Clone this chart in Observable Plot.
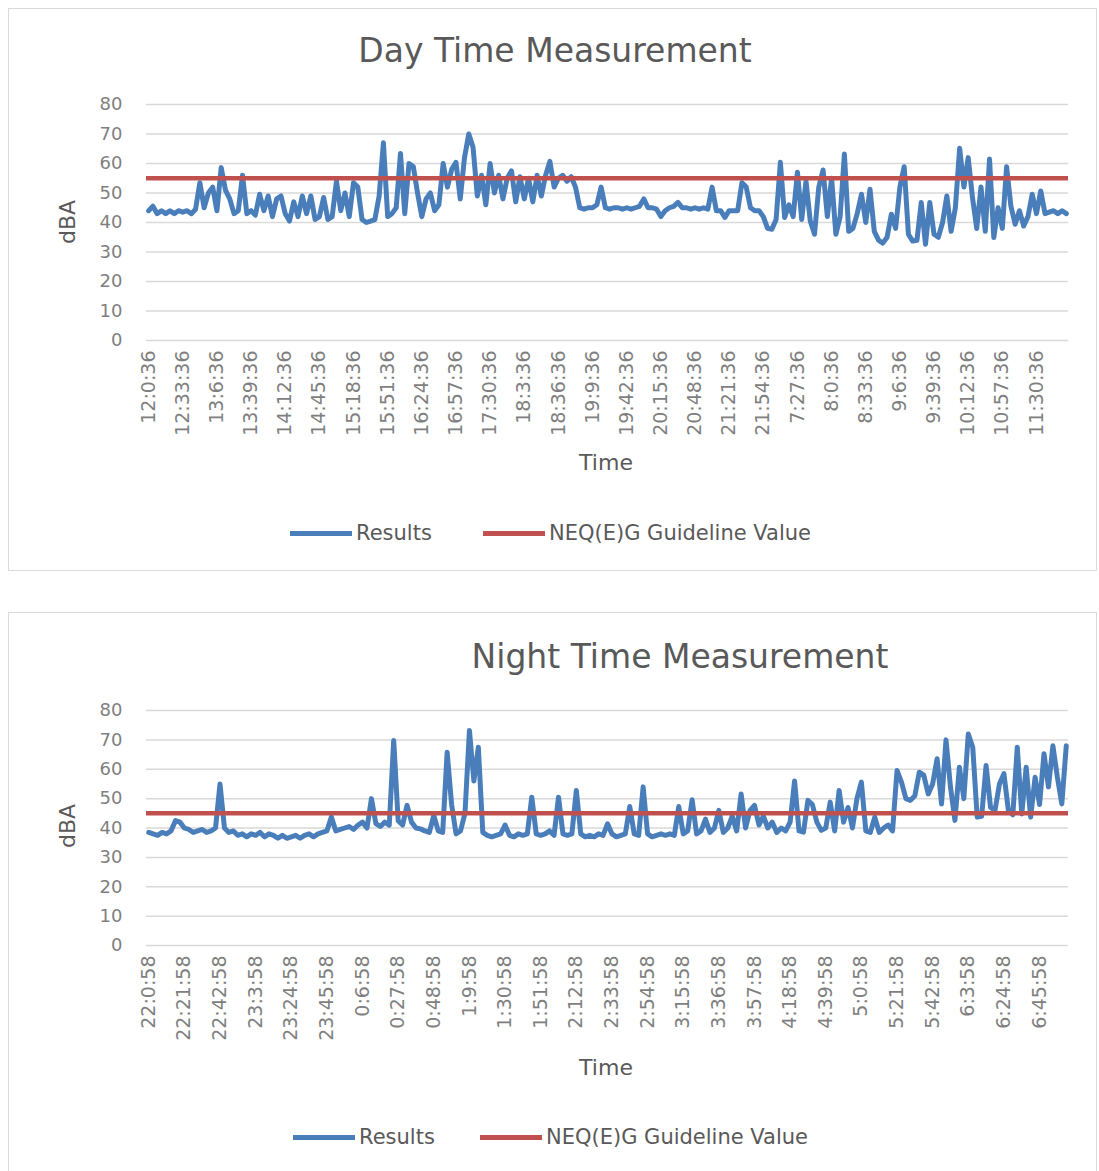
<!DOCTYPE html>
<html><head><meta charset="utf-8">
<script src="https://cdn.jsdelivr.net/npm/d3@7"></script>
<script src="https://cdn.jsdelivr.net/npm/@observablehq/plot@0.6"></script>
<style>
body{margin:0;background:#fff;width:1099px;height:1171px;overflow:hidden;position:relative;font-family:"DejaVu Sans",sans-serif;color:#595959}
.box{position:absolute;left:8px;width:1089px;border:1px solid #d9d9d9;box-sizing:border-box;background:#fff}
.t{position:absolute;white-space:nowrap;line-height:1}
.sw{position:absolute;height:5px;width:62px}
.plotwrap{position:absolute;left:0}
</style></head>
<body>
<script>
// ---------- data ----------
const dayTitle = "Day Time Measurement";
const nightTitle = "Night Time Measurement";
const yTicks = [0, 10, 20, 30, 40, 50, 60, 70, 80];
const labelStep = 8; // category points between labelled ticks

const dayLabels = ["12:0:36","12:33:36","13:6:36","13:39:36","14:12:36","14:45:36","15:18:36","15:51:36","16:24:36","16:57:36","17:30:36","18:3:36","18:36:36","19:9:36","19:42:36","20:15:36","20:48:36","21:21:36","21:54:36","7:27:36","8:0:36","8:33:36","9:6:36","9:39:36","10:12:36","10:57:36","11:30:36"];
const dayResults = [44,45.5,43,44,43,44,43,44,43.5,44,
 43,44.5,53.5,45,50,52,44,58.6,51,48,
 43,44,56,43,44,42.5,49.6,44,49,42,
 48,49,43,40.5,47,42,49,43,49,41,
 42,48.5,41,42,54,44,50,42,53.5,52,
 41,40,40.5,41,49,67,42,43,45,63.4,
 43,60,59,50,42,48,50,44,46,60,
 52,58,60.4,48,62,70,65.5,49,56,46,
 60,50,56,48,55,57.5,47,55.5,48,55,
 47,56,49,56,60.7,52,55,56,54,55.5,
 52,45,44.5,45,45,46,52,45,44.5,45,
 45,44.5,45,44.5,45,45.5,48,45,45,44.5,
 42,44,45,45.5,46.8,45,45,44.5,45,44.5,
 45,44.5,52,44,44,41.7,44,44,44,53.5,
 52,45,44,44,42,38,37.7,41,60.4,41.7,
 46,42,57,41,54,40.5,36,52,57.8,42,
 55,36,42,63.2,37,38,43,49.6,40,51.3,
 37,34,33,35,42.8,38,52,58.9,36,33.7,
 34,46.8,32.6,46.8,36,35,40,49,37,45,
 65.2,52,62,48.5,38,52,37,61.5,34.9,45,
 38,58.9,45.6,39.4,44,38.8,42,49.6,43,50.7,
 43,43.5,44,43,44,43];
const dayGuideline = 55;

const nightLabels = ["22:0:58","22:21:58","22:42:58","23:3:58","23:24:58","23:45:58","0:6:58","0:27:58","0:48:58","1:9:58","1:30:58","1:51:58","2:12:58","2:33:58","2:54:58","3:15:58","3:36:58","3:57:58","4:18:58","4:39:58","5:0:58","5:21:58","5:42:58","6:3:58","6:24:58","6:45:58"];
const nightResults = [38.5,38,37.5,38.5,38,39,42.5,42,40,39.5,
 38.5,39,39.5,38.5,39,40,55,40,38.5,39,
 37.5,38,37,38,37.5,38.5,37,38,37.5,36.5,
 37.5,36.5,37,37.5,36.5,37.5,38,37,38,38.5,
 39,43.7,39,39.5,40,40.5,39.5,41,42,40,
 50,41.5,40.5,42,41,69.8,42.5,41,47.7,42,
 40,39.7,39,38.5,44.3,39,38.5,65.8,48,38,
 39,45,73.2,56,67.5,38.5,37.5,37,37.5,38,
 41,37.5,37,38,37.5,38,50.5,38,37.5,38,
 39,37.5,50.5,38,37.5,38,52.8,38,37,37.5,
 37,38,37.5,41.4,38,37,37.5,38,47.3,38,
 37.5,54,38,37,37.5,38,37.5,38,37.5,47.3,
 38,39,49.6,38,39,43,38.5,40,46,38.5,
 40,44,39,51.6,40,46,47.7,41,44,40,
 42,38.5,40,39,42,56,39,38.6,49.4,48,
 42,39.2,40,48.8,39,52.8,42,47,40,50,
 55.6,39,38.5,43.7,38.5,40,41,39,59.6,55.6,
 50,49.4,51,59,58,51.6,55,63.6,48.2,70,
 54,42.6,60.7,50,72,67.5,43.7,44,61.3,47,
 46,55,58.5,46,44.5,67.5,44.8,60.7,43.7,57.3,
 48,65.3,54,68,57.3,48.2,68];
const nightGuideline = 45;

const seriesNames = ["Results", "NEQ(E)G Guideline Value"];
const colors = ["#4a7ebb", "#c0504d"];

// ---------- layout helpers ----------
function el(cls, css, text) {
  const d = document.createElement("div");
  d.className = cls;
  Object.assign(d.style, css);
  if (text != null) d.textContent = text;
  document.body.appendChild(d);
  return d;
}
function label(text, x, y, size, rotate, color) {
  el("t", {left: x + "px", top: y + "px", fontSize: size + "px", color: color || "#595959",
    transform: "translate(-50%,-50%)" + (rotate ? " rotate(" + rotate + "deg)" : "")}, text);
}

function chart(cfg) {
  el("box", {top: cfg.boxTop + "px", height: cfg.boxH + "px"});
  label(cfg.title, cfg.titleX, cfg.titleY, 33, 0, "#595959");
  const n = cfg.values.length;
  const svg = Plot.plot({
    width: 1099, height: 400,
    marginLeft: 146, marginRight: 31, marginTop: 14, marginBottom: cfg.mb,
    style: {fontFamily: "DejaVu Sans, sans-serif", fontSize: "19px", color: "#7f7f7f", background: "transparent", overflow: "visible"},
    x: {domain: [-0.5, n - 0.5]},
    y: {domain: [0, 80]},
    marks: [
      Plot.gridY(yTicks, {stroke: "#d9d9d9", strokeOpacity: 1, strokeWidth: 1.5}),
      Plot.axisY(yTicks, {tickSize: 0, tickPadding: 24, label: null, fontSize: 18}),
      Plot.axisX(cfg.labels.map((_, i) => i * labelStep), {tickSize: 0, tickPadding: 10, tickRotate: -90,
        tickFormat: d => cfg.labels[d / labelStep], label: null}),
      Plot.lineY(cfg.values, {x: (d, i) => i, y: d => d, stroke: colors[0], strokeWidth: 5, strokeLinejoin: "round", strokeLinecap: "round"}),
      Plot.ruleY([cfg.guide], {stroke: colors[1], strokeWidth: 4.5})
    ]
  });
  const w = el("plotwrap", {top: cfg.svgTop + "px"});
  w.appendChild(svg);
  label("dBA", 68, cfg.dbaY, 22, -90, "#595959");
  label("Time", 606, cfg.timeY, 22, 0, "#595959");
  // legend
  el("sw", {left: cfg.leg[0] + "px", top: (cfg.legY - 2) + "px", background: colors[0]});
  el("t", {left: (cfg.leg[0] + 66) + "px", top: cfg.legY + "px", fontSize: "21px", transform: "translateY(-50%)"}, seriesNames[0]);
  el("sw", {left: cfg.leg[1] + "px", top: (cfg.legY - 2) + "px", background: colors[1]});
  el("t", {left: (cfg.leg[1] + 66) + "px", top: cfg.legY + "px", fontSize: "21px", transform: "translateY(-50%)"}, seriesNames[1]);
}

chart({boxTop: 8, boxH: 563, title: dayTitle, titleX: 555, titleY: 50, values: dayResults, labels: dayLabels,
  guide: dayGuideline, svgTop: 90, mb: 150, dbaY: 222, timeY: 463, leg: [290, 483], legY: 533});
chart({boxTop: 612, boxH: 580, title: nightTitle, titleX: 680, titleY: 656, values: nightResults, labels: nightLabels,
  guide: nightGuideline, svgTop: 696, mb: 151, dbaY: 826, timeY: 1068, leg: [293, 480], legY: 1137});
</script>
</body></html>
